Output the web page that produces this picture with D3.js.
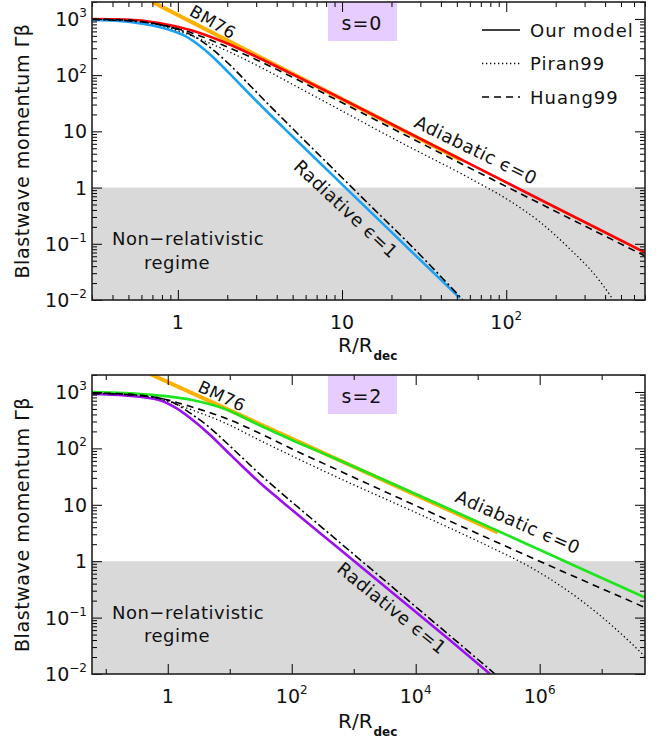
<!DOCTYPE html>
<html><head><meta charset="utf-8">
<script src="https://cdn.jsdelivr.net/npm/d3@7"></script>
<style>
body{margin:0;background:#fff}
text{font-family:"DejaVu Sans",sans-serif;fill:#111}
</style></head>
<body><svg id="c" width="658" height="740"></svg>
<script>
// ---------------- data (R/Rdec, Γβ) ----------------
const yTickValues = [0.01, 0.1, 1, 10, 100, 1000];
const xTickValuesTop = [1, 10, 100];
const xTickValuesBottom = [1, 1e2, 1e4, 1e6];
const legendLabels = ["Our model", "Piran99", "Huang99"];

// s = 0
const s0BM76 = [[0.70, 2000], [53.0, 3.09]];
const s0Adiabatic = [[0.30,998],[0.476,977],[0.767,848],[1.219,623],[1.936,381],[3.12,202],[4.95,105],[8.44,48.2],[167.3,0.577],[700,0.070]];
const s0Radiative = [[0.30,958],[0.386,938],[0.511,882],[0.676,780],[0.895,636],[1.105,498],[1.363,330],[1.683,194],[2.076,105],[2.749,45.3],[3.64,19.95],[4.82,8.98],[8.44,1.84],[14.8,0.378],[25.9,0.0775],[52.2,0.01086]];
const s0HuangAd = [[0.30,986],[0.476,958],[0.767,797],[1.219,562],[1.936,330],[3.12,179],[4.82,96.6],[8.44,41.7],[145.4,0.601],[700,0.0607]];
const s0PiranAd = [[0.30,986],[0.476,958],[0.767,782],[1.219,498],[1.936,281],[3.12,143],[4.82,72.5],[8.44,30.1],[22.5,6.47],[62.7,1.364],[105.3,0.577],[160.4,0.244],[244,0.0808],[347,0.0279],[446,0.0104]];
const s0Rad2 = [[0.30,977],[0.386,958],[0.511,920],[0.676,848],[0.895,719],[1.105,586],[1.363,423],[1.683,264],[2.076,152],[2.749,65.5],[3.64,28.3],[4.82,12.46],[8.44,2.45],[14.8,0.484],[25.9,0.0971],[54.5,0.0100]];

// s = 2
const s2BM76 = [[0.53, 2060], [2.10e5, 3.25]];
const s2Adiabatic = [[0.06,1000],[0.205,960],[0.724,867],[2.466,721],[8.40,500],[29.7,260],[101.2,141],[415,72.4],[2.13e5,3.43],[5.00e6,0.713],[5.0e7,0.227]];
const s2Radiative = [[0.06,922],[0.205,867],[0.724,721],[1.311,531],[2.466,325],[4.64,180],[8.40,95.5],[15.8,48.7],[29.7,25.4],[64.8,12.2],[212.7,4.12],[415,2.25],[5590,0.214],[3.58e4,0.0396],[1.585e5,0.0100]];
const s2HuangAd = [[0.06,960],[0.205,922],[0.724,783],[2.466,542],[8.40,346],[29.7,187.6],[101.2,97.6],[415,47.8],[6.98e5,1.187],[5.0e7,0.151]];
const s2PiranAd = [[0.06,960],[0.205,903],[0.724,752],[2.466,480],[8.40,282],[29.7,141],[101.2,73.3],[415,35.2],[1.70e4,5.60],[1.585e5,1.786],[6.98e5,0.789],[2.38e6,0.342],[8.43e6,0.1207],[2.86e7,0.0369],[5.0e7,0.0204]];
const s2Rad2 = [[0.06,940],[0.205,903],[0.724,783],[1.311,625],[2.466,399],[4.64,239],[8.40,132.5],[15.8,69.0],[29.7,35.9],[64.8,16.9],[212.7,5.60],[415,3.0],[5590,0.2676],[3.58e4,0.0476],[1.904e5,0.0100]];

// --------------- drawing ----------------
const svg = d3.select("#c");
const left = 92, right = 645;

const panels = [
  {id:"p0", top:2, bottom:300, xdom:[0.3,700], xticks:xTickValuesTop, sLabel:"s=0",
   bm:s0BM76, ad:s0Adiabatic, rad:s0Radiative, hu:s0HuangAd, pi:s0PiranAd, r2:s0Rad2,
   adColor:"#ff0000", radColor:"#1aa0f5", legend:true,
   minorX:"log", bmLab:[213,22,30], adLab:[476,150,26], radLab:[346,209,43],
   nr:[188,238,177,262], xlabY:352},
  {id:"p1", top:375, bottom:674, xdom:[0.06,5e7], xticks:xTickValuesBottom, sLabel:"s=2",
   bm:s2BM76, ad:s2Adiabatic, rad:s2Radiative, hu:s2HuangAd, pi:s2PiranAd, r2:s2Rad2,
   adColor:"#1ee61e", radColor:"#9a10f0", legend:false,
   minorX:"decade", bmLab:[222,396,25], adLab:[518,522,23.5], radLab:[392,608,39],
   nr:[188,612,177,635], xlabY:728}
];

panels.forEach(p => {
  const x = d3.scaleLog().domain(p.xdom).range([left, right]);
  const y = d3.scaleLog().domain([0.01, 2000]).range([p.bottom, p.top]);
  const g = svg.append("g");
  const clipId = "clip" + p.id;
  svg.append("clipPath").attr("id", clipId).append("rect")
    .attr("x", left).attr("y", p.top).attr("width", right-left).attr("height", p.bottom-p.top);

  // gray non-relativistic region
  g.append("rect").attr("x", left).attr("y", y(1)).attr("width", right-left)
    .attr("height", y(0.01)-y(1)).attr("fill", "#d9d9d9");

  // s label box
  g.append("rect").attr("x", 328).attr("y", p.top).attr("width", 69).attr("height", 39)
    .attr("fill", "#e6ccff");
  g.append("text").attr("x", 362).attr("y", p.top+21).attr("text-anchor","middle")
    .attr("dominant-baseline","central").attr("font-size", 19).style("letter-spacing","1px").text(p.sLabel);

  const line = d3.line().x(d => x(d[0])).y(d => y(d[1])).curve(d3.curveMonotoneX);
  const cg = g.append("g").attr("clip-path", `url(#${clipId})`);
  cg.append("path").attr("d", line(p.bm)).attr("fill","none").attr("stroke","#ffb000").attr("stroke-width",4);
  cg.append("path").attr("d", line(p.ad)).attr("fill","none").attr("stroke",p.adColor).attr("stroke-width",2.6);
  cg.append("path").attr("d", line(p.rad)).attr("fill","none").attr("stroke",p.radColor).attr("stroke-width",2.6);
  cg.append("path").attr("d", line(p.hu)).attr("fill","none").attr("stroke","#000").attr("stroke-width",1.6).attr("stroke-dasharray","7,5");
  cg.append("path").attr("d", line(p.pi)).attr("fill","none").attr("stroke","#000").attr("stroke-width",1.3).attr("stroke-dasharray","1.3,2.7");
  cg.append("path").attr("d", line(p.r2)).attr("fill","none").attr("stroke","#000").attr("stroke-width",1.6).attr("stroke-dasharray","8,3,2,3");

  // axes ticks
  const yMinor = [];
  for (let e = -2; e <= 3; e++) for (let m = 2; m <= 9; m++) { const v = m*Math.pow(10,e); if (v <= 2000) yMinor.push(v); }
  let xMajor, xMinor;
  if (p.minorX === "log") {
    xMajor = [1,10,100]; xMinor = [];
    for (let e = -1; e <= 2; e++) for (let m = 2; m <= 9; m++) { const v = m*Math.pow(10,e); if (v >= 0.3 && v <= 700) xMinor.push(v); }
  } else {
    xMajor = [1,1e2,1e4,1e6]; xMinor = [0.1,10,1e3,1e5,1e7];
  }
  const ax = g.append("g");
  const addAxis = (axis, tx, ty) => {
    const a = ax.append("g").attr("transform", `translate(${tx},${ty})`).call(axis);
    a.select(".domain").remove();
    a.selectAll("line").attr("stroke","#000").attr("stroke-width",1);
    a.selectAll("text").remove();
  };
  addAxis(d3.axisLeft(y).tickValues(yTickValues).tickSize(-10), left, 0);
  addAxis(d3.axisLeft(y).tickValues(yMinor).tickSize(-5), left, 0);
  addAxis(d3.axisRight(y).tickValues(yTickValues).tickSize(-10), right, 0);
  addAxis(d3.axisRight(y).tickValues(yMinor).tickSize(-5), right, 0);
  addAxis(d3.axisBottom(x).tickValues(xMajor).tickSize(-10), 0, p.bottom);
  addAxis(d3.axisBottom(x).tickValues(xMinor).tickSize(-5), 0, p.bottom);
  addAxis(d3.axisTop(x).tickValues(xMajor).tickSize(-10), 0, p.top);
  addAxis(d3.axisTop(x).tickValues(xMinor).tickSize(-5), 0, p.top);

  g.append("rect").attr("x", left).attr("y", p.top).attr("width", right-left).attr("height", p.bottom-p.top)
    .attr("fill","none").attr("stroke","#222").attr("stroke-width",1.6);

  // tick labels
  const expOf = v => Math.round(Math.log10(v));
  const putLabel = (sel, v) => {
    const e = expOf(v);
    if (e === 0) sel.text("1");
    else if (e === 1) sel.text("10");
    else {
      sel.append("tspan").text("10");
      sel.append("tspan").attr("font-size", 12).attr("dy", -9).text(e < 0 ? "\u2212" + (-e) : String(e));
    }
  };
  yTickValues.forEach(v => {
    const t = g.append("text").attr("x", 87).attr("y", y(v) + 7).attr("text-anchor","end").attr("font-size",19);
    putLabel(t, v);
  });
  p.xticks.forEach(v => {
    const t = g.append("text").attr("x", x(v)).attr("y", p.bottom + 29).attr("text-anchor","middle").attr("font-size",19);
    putLabel(t, v);
  });

  // axis titles
  const xt = g.append("text").attr("x", 338).attr("y", p.xlabY).attr("font-size", 20);
  xt.append("tspan").text("R/R");
  xt.append("tspan").attr("font-size", 12).attr("font-weight","bold").attr("dy", 8).attr("dx", 1).text("dec");
  g.append("text").attr("transform", `translate(29,${(p.top+p.bottom)/2}) rotate(-90)`)
    .attr("text-anchor","middle").attr("font-size", 19).style("letter-spacing","0.6px")
    .text("Blastwave momentum \u0393\u03b2");

  // annotations
  const rotText = (pos, txt, size) => g.append("text")
    .attr("transform", `translate(${pos[0]},${pos[1]}) rotate(${pos[2]})`)
    .attr("text-anchor","middle").attr("dominant-baseline","central").attr("font-size", size).style("letter-spacing","0.5px").text(txt);
  rotText(p.bmLab, "BM76", 17);
  rotText(p.adLab, "Adiabatic  \u03f5=0", 18);
  rotText(p.radLab, "Radiative  \u03f5=1", 18);
  g.append("text").attr("x", p.nr[0]).attr("y", p.nr[1]).attr("text-anchor","middle").attr("dominant-baseline","central")
    .attr("font-size",18).style("letter-spacing","0.5px").text("Non\u2212relativistic");
  g.append("text").attr("x", p.nr[2]).attr("y", p.nr[3]).attr("text-anchor","middle").attr("dominant-baseline","central")
    .attr("font-size",18).style("letter-spacing","0.5px").text("regime");

  if (p.legend) {
    const dashes = [null, "1.3,2.7", "7,5"];
    legendLabels.forEach((lab, i) => {
      const ly = 30 + i*33.5;
      const l = g.append("line").attr("x1", 482).attr("x2", 520).attr("y1", ly).attr("y2", ly)
        .attr("stroke","#000").attr("stroke-width", i===1 ? 1.3 : 1.6);
      if (dashes[i]) l.attr("stroke-dasharray", dashes[i]);
      g.append("text").attr("x", 530).attr("y", ly).attr("dominant-baseline","central")
        .attr("font-size",18).style("letter-spacing","1px").text(lab);
    });
  }
});
</script></body></html>
